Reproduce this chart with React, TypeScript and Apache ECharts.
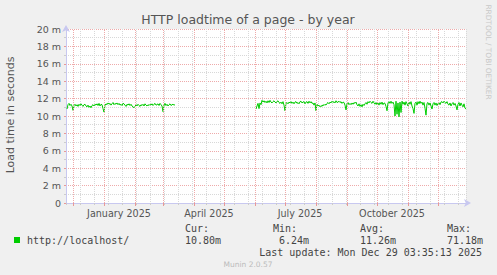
import React, { useEffect, useRef } from "react";
import * as echarts from "echarts";

// ---- time frame (days from the graph start) ----
const START_UTC = Date.UTC(2024, 10, 24); // Nov 24 2024
const END_UTC = Date.UTC(2025, 11, 29); // Dec 29 2025
const DAY_MS = 86400000;

// month starts drawn as major (red) grid lines: [year, monthIndex]
const monthStarts: [number, number][] = [
  [2024, 11], [2025, 0], [2025, 1], [2025, 2], [2025, 3], [2025, 4], [2025, 5],
  [2025, 6], [2025, 7], [2025, 8], [2025, 9], [2025, 10], [2025, 11],
];

// quarter labels on the time axis
const quarterLabels = ["January 2025", "April 2025", "July 2025", "October 2025"];
const quarterMonths: [number, number][] = [[2025, 0], [2025, 3], [2025, 6], [2025, 9]];

// y axis ticks (milliseconds)
const yMin = 0;
const yMax = 20;
const yStep = 2;

// ---- series: daily average load time in ms ----
const seg1Start: [number, number, number] = [2024, 10, 25];
const seg1Values = [
  10.8, 11.3, 11.45, 11.2, 11.35, 11.15, 10.65, 11.2, 11.35, 11.15,
  11.3, 11.1, 11.35, 11.2, 11.4, 11.25, 11.1, 11.3, 11.35, 11.15,
  11.05, 11.25, 11.0, 11.15, 10.95, 11.2, 11.3, 11.15, 11.35, 11.25,
  11.4, 11.2, 11.45, 11.15, 11.35, 11.3, 10.85, 10.45, 11.25, 11.4,
  11.3, 11.5, 11.35, 11.45, 11.25, 11.4, 11.55, 11.3, 11.45, 11.35,
  11.5, 11.3, 11.45, 11.25, 11.35, 11.2, 11.45, 11.4, 11.25, 11.1,
  11.35, 11.25, 11.4, 11.2, 11.35, 11.15, 11.05, 10.95, 11.1, 11.3,
  11.15, 11.35, 11.2, 11.1, 11.3, 11.2, 11.35, 11.15, 11.4, 11.25,
  11.15, 11.3, 11.2, 11.35, 11.25, 11.4, 11.2, 11.35, 11.45, 11.25,
  11.3, 11.4, 11.2, 11.45, 11.3, 11.15, 10.5, 11.25, 11.45, 11.2,
  11.35, 11.15, 11.3, 11.4, 11.2, 11.3, 11.35, 11.25, 11.3,
];

const seg2Start: [number, number, number] = [2025, 5, 2];
const seg2Values = [
  10.8, 11.15, 11.45, 10.85, 11.5, 11.3, 11.8, 11.6, 11.75, 11.55,
  11.7, 11.5, 11.75, 11.55, 11.8, 11.6, 11.5, 11.65, 11.75, 11.6,
  11.5, 11.65, 11.75, 11.55, 11.45, 11.6, 11.4, 11.65, 11.25, 10.6,
  11.45, 11.55, 11.4, 11.6, 11.5, 11.65, 11.45, 11.6, 11.4, 11.6,
  11.65, 11.45, 11.55, 11.4, 11.65, 11.7, 11.5, 11.6, 11.65, 11.4,
  11.6, 11.65, 11.45, 11.7, 11.5, 11.65, 11.45, 11.5, 11.25, 11.5,
  10.6, 11.35, 11.15, 11.25, 11.05, 11.2, 11.1, 11.3, 11.2, 11.35,
  11.25, 11.45, 11.55, 11.4, 11.6, 11.5, 11.7, 11.55, 11.65, 11.5,
  11.75, 11.55, 11.6, 11.7, 11.55, 11.65, 11.45, 11.6, 11.55, 11.25,
  10.7, 11.4, 11.55, 11.3, 11.45, 11.3, 11.5, 11.35, 11.55, 11.45,
  11.6, 11.3, 11.15, 11.4, 11.1, 11.3, 11.05, 11.35, 11.2, 11.4,
  11.55, 11.35, 11.65, 11.5, 11.7, 11.55, 11.45, 11.7, 11.5, 11.35,
  11.55, 11.3, 11.5, 11.25, 11.55, 11.35, 11.6, 11.3, 11.5, 11.45,
  11.1, 10.6, 11.5, 11.65, 11.45, 11.7, 11.45, 11.6, 11.3, 10.0,
  11.7, 10.2, 11.5, 9.9, 11.6, 10.4, 11.7, 11.35, 11.6, 11.25,
  11.65, 11.4, 11.15, 11.6, 11.35, 11.65, 11.15, 10.85, 10.3, 11.45,
  11.6, 11.25, 11.65, 11.4, 11.7, 11.45, 11.6, 11.25, 11.55, 10.9,
  10.1, 11.45, 11.55, 11.25, 11.5, 11.15, 10.8, 11.4, 11.55, 11.25,
  11.5, 11.2, 11.45, 11.55, 11.3, 11.6, 11.65, 11.5, 11.7, 11.55,
  11.45, 11.65, 11.35, 11.25, 11.5, 11.15, 11.4, 11.55, 11.25, 11.45,
  11.15, 10.7, 11.35, 11.55, 11.15, 11.5, 11.25, 11.05, 11.4, 10.9,
  10.8,
];

// ---- legend texts ----
const seriesName = "http://localhost/";
const statLabels = ["Cur:", "Min:", "Avg:", "Max:"];
const statValues = ["10.80m", "6.24m", "11.26m", "71.18m"];
const lastUpdate = "Last update: Mon Dec 29 03:35:13 2025";
const titleText = "HTTP loadtime of a page - by year";
const yAxisTitle = "Load time in seconds";
const sideText = "RRDTOOL / TOBI OETIKER";
const footerText = "Munin 2.0.57";

const GREEN = "#00cc00";
const MONO = "'DejaVu Sans Mono', monospace";
const SANS = "'DejaVu Sans', sans-serif";

const dayOf = (y: number, m: number, d: number) => (Date.UTC(y, m, d) - START_UTC) / DAY_MS;
const totalDays = (END_UTC - START_UTC) / DAY_MS;

function segData(start: [number, number, number], values: number[]) {
  const d0 = dayOf(start[0], start[1], start[2]);
  return values.map((v, i) => [d0 + i, v]);
}

export default function App() {
  const ref = useRef<HTMLDivElement>(null);

  useEffect(() => {
    if (!ref.current) return;
    const chart = echarts.init(ref.current, undefined, { renderer: "svg" });

    const monthDays = monthStarts.map(([y, m]) => dayOf(y, m, 1));
    const labelDays = quarterMonths.map(([y, m]) => dayOf(y, m, 1) + 15);
    const labelMap: Record<string, string> = {};
    labelDays.forEach((d, i) => (labelMap[String(d)] = quarterLabels[i]));

    const statX = [185, 273, 360, 447];
    const statValX = [185, 279, 360, 447];

    const graphic: any[] = [
      {
        type: "text", x: 248, y: 19,
        style: { text: titleText, font: `12.5px ${SANS}`, fill: "#555", align: "center", verticalAlign: "middle" },
      },
      {
        type: "text", x: 10, y: 115, rotation: Math.PI / 2,
        style: { text: yAxisTitle, font: `11px ${SANS}`, fill: "#555", align: "center", verticalAlign: "middle" },
      },
      {
        type: "text", x: 488, y: 52, rotation: -Math.PI / 2,
        style: { text: sideText, font: `7.4px ${SANS}`, fill: "#c8c8c8", align: "center", verticalAlign: "middle" },
      },
      { type: "rect", shape: { x: 14, y: 237, width: 6, height: 6 }, style: { fill: GREEN } },
      {
        type: "text", x: 27, y: 240,
        style: { text: seriesName, font: `10px ${MONO}`, fill: "#444", verticalAlign: "middle" },
      },
      ...statLabels.map((t, i) => ({
        type: "text", x: statX[i], y: 228,
        style: { text: t, font: `10px ${MONO}`, fill: "#444", verticalAlign: "middle" },
      })),
      ...statValues.map((t, i) => ({
        type: "text", x: statValX[i], y: 240,
        style: { text: t, font: `10px ${MONO}`, fill: "#444", verticalAlign: "middle" },
      })),
      {
        type: "text", x: 482, y: 252,
        style: { text: lastUpdate, font: `10px ${MONO}`, fill: "#444", align: "right", verticalAlign: "middle" },
      },
      {
        type: "text", x: 248, y: 264,
        style: { text: footerText, font: `7.5px ${SANS}`, fill: "#bbb", align: "center", verticalAlign: "middle" },
      },
    ];

    chart.setOption({
      animation: false,
      backgroundColor: "#f0f0f0",
      grid: {
        left: 66, right: 31, top: 29, bottom: 72,
        show: true, backgroundColor: "#ffffff", borderWidth: 0,
        containLabel: false, outerBoundsMode: "none",
      },
      xAxis: [
        {
          type: "value", min: 0, max: totalDays, interval: 14, position: "bottom",
          axisLine: {
            show: true, onZero: false,
            lineStyle: { color: "#c8c8f0", width: 1 },
            symbol: ["none", "arrow"], symbolSize: [6, 7], symbolOffset: [0, 5],
          },
          axisTick: { show: true, length: 2, lineStyle: { color: "#cccccc" } },
          axisLabel: { show: false },
          splitLine: { show: true, lineStyle: { color: "#d8d8d8", type: [1, 1], width: 1 } },
        },
        {
          type: "value", min: 0, max: totalDays, position: "bottom",
          axisLine: { show: false, onZero: false },
          axisTick: { show: true, length: 3, customValues: monthDays, lineStyle: { color: "#e89898" } },
          axisLabel: {
            show: true, customValues: labelDays, margin: 5,
            formatter: (v: number) => labelMap[String(v)] ?? "",
            fontFamily: SANS, fontSize: 9.6, color: "#555",
          },
          splitLine: { show: false },
        },
      ],
      yAxis: {
        type: "value", min: yMin, max: yMax, interval: yStep,
        axisLine: {
          show: true, onZero: false,
          lineStyle: { color: "#c8c8f0", width: 1 },
          symbol: ["none", "arrow"], symbolSize: [6, 7], symbolOffset: [0, 4],
        },
        axisTick: { show: true, length: 2, lineStyle: { color: "#e89898" } },
        minorTick: { show: true, splitNumber: 2, length: 2, lineStyle: { color: "#cccccc" } },
        axisLabel: {
          formatter: (v: number) => (v === 0 ? "0" : `${v} m`),
          fontFamily: SANS, fontSize: 9.5, color: "#555", margin: 5,
        },
        splitLine: { show: true, lineStyle: { color: "#eeaaaa", type: [1, 1], width: 1 } },
        minorSplitLine: { show: true, lineStyle: { color: "#d8d8d8", type: [1, 1], width: 1 } },
      },
      series: [
        {
          type: "line", data: [], xAxisIndex: 0, yAxisIndex: 0, z: 1, silent: true,
          markLine: {
            silent: true, symbol: ["none", "none"], label: { show: false },
            lineStyle: { color: "#eeaaaa", type: [1, 1], width: 1 },
            emphasis: { disabled: true },
            data: monthDays.map((d) => ({ xAxis: d })),
          },
        },
        {
          type: "line", data: segData(seg1Start, seg1Values), xAxisIndex: 0, yAxisIndex: 0,
          showSymbol: false, z: 3, lineStyle: { color: GREEN, width: 1 }, itemStyle: { color: GREEN },
        },
        {
          type: "line", data: segData(seg2Start, seg2Values), xAxisIndex: 0, yAxisIndex: 0,
          showSymbol: false, z: 3, lineStyle: { color: GREEN, width: 1 }, itemStyle: { color: GREEN },
        },
      ],
      graphic,
    });

    return () => chart.dispose();
  }, []);

  return (
    <div
      ref={ref}
      style={{ position: "absolute", left: 0, top: 0, width: 497, height: 275 }}
    />
  );
}
